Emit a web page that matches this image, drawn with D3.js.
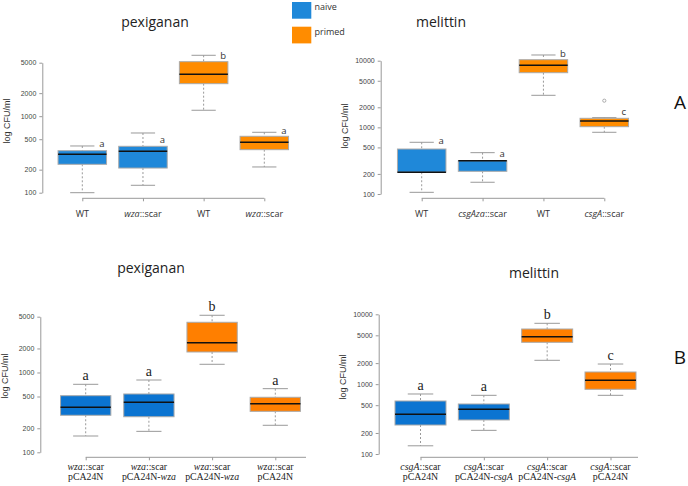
<!DOCTYPE html>
<html><head><meta charset="utf-8">
<script src="https://cdn.jsdelivr.net/npm/d3@7"></script>
<style>body{margin:0;background:#fff}svg{display:block}</style>
</head><body>
<svg id="c" width="688" height="486"></svg>
<script>
// ---------- DATA ----------
const groups = ["naive", "primed"];
const boxGroups = ["naive", "naive", "primed", "primed"];

const ticksTo5000 = [100, 200, 500, 1000, 2000, 5000];
const ticksTo10000 = [100, 200, 500, 1000, 2000, 5000, 10000];

// top-left: pexiganan  [min, q1, median, q3, max]
const pexTopLabels = ["WT", "*wza*::scar", "WT", "*wza*::scar"];
const pexTopStats = [
  [100, 235, 318, 354, 408],
  [125, 210, 348, 404, 603],
  [1195, 2660, 3530, 5155, 6250],
  [217, 365, 456, 546, 616]
];
const pexTopLetters = ["a", "a", "b", "a"];
const pexTopLetterAt = [442, 489, 6250, 646];

// top-right: melittin
const melTopLabels = ["WT", "*csgAza*::scar", "WT", "*csgA*::scar"];
const melTopStats = [
  [106, 212, 212, 473, 597],
  [150, 219, 316, 316, 417],
  [3026, 6606, 8530, 10350, 12180],
  [843, 1023, 1245, 1367, 1400]
];
const melTopOutliers = [[], [], [], [2512]];
const melTopLetters = ["a", "a", "b", "c"];
const melTopLetterAt = [631, 408, 12910, 1741];

// bottom-left: pexiganan
const pexBotLabels1 = ["*wza*::scar", "*wza*::scar", "*wza*::scar", "*wza*::scar"];
const pexBotLabels2 = ["pCA24N", "pCA24N-*wza*", "pCA24N-*wza*", "pCA24N"];
const pexBotStats = [
  [160, 291, 366, 512, 711],
  [183, 279, 423, 538, 805],
  [1267, 1806, 2362, 4256, 5210],
  [218, 326, 406, 489, 627]
];
const pexBotLetters = ["a", "a", "b", "a"];

// bottom-right: melittin
const melBotLabels1 = ["*csgA*::scar", "*csgA*::scar", "*csgA*::scar", "*csgA*::scar"];
const melBotLabels2 = ["pCA24N", "pCA24N-*csgA*", "pCA24N-*csgA*", "pCA24N"];
const melBotStats = [
  [131, 260, 370, 574, 723],
  [218, 307, 436, 520, 692],
  [2195, 3973, 4777, 6160, 7430],
  [692, 844, 1136, 1493, 1942]
];
const melBotLetters = ["a", "a", "b", "c"];

// ---------- DRAW ----------
const svg = d3.select("#c");
const sans = "'Open Sans', 'Noto Sans', sans-serif";
const arial = "'Liberation Sans', Arial, sans-serif";
const serif = "'Liberation Serif', 'Times New Roman', serif";

function addRich(textSel, str, first) {
  const parts = str.split("*");
  let started = false;
  parts.forEach((p, i) => {
    if (!p) return;
    const ts = textSel.append("tspan").text(p).attr("font-style", i % 2 ? "italic" : "normal");
    if (first && !started) { first(ts); started = true; }
  });
}

function panel(o) {
  const g = svg.append("g");
  const x = d3.scaleLinear().domain([0, 3]).range(o.xr);
  const y = d3.scaleLog().domain(o.yd).range(o.yr);
  const color = d3.scaleOrdinal().domain(groups).range(o.colors);

  // y axis
  const ya = d3.axisLeft(y).tickValues(o.ticks).tickFormat(d3.format("d")).tickSize(3).tickSizeOuter(0);
  const yg = g.append("g").attr("transform", `translate(${o.yx},0)`).call(ya);
  yg.select(".domain").attr("stroke", "#999");
  yg.selectAll(".tick line").attr("stroke", "#999");
  yg.selectAll(".tick text").attr("font-family", arial).attr("font-size", 7).attr("fill", "#444").attr("x", -6);

  // x axis
  const xa = d3.axisBottom(x).tickValues([0, 1, 2, 3]).tickFormat("").tickSize(3).tickSizeOuter(0);
  const xg = g.append("g").attr("transform", `translate(0,${o.xy})`).call(xa);
  xg.select(".domain").attr("stroke", "#999").attr("d", `M${o.xr[0]},0H${o.xend}`);
  xg.selectAll(".tick line").attr("stroke", "#999");

  // boxes
  o.stats.forEach((s, i) => {
    const cx = x(i), hw = o.bw / 2, cw = o.bw / 4;
    const [mn, q1, md, q3, mx] = s;
    g.append("line").attr("x1", cx).attr("x2", cx).attr("y1", y(mx)).attr("y2", y(q3))
      .attr("stroke", "#999").attr("stroke-dasharray", "2,2");
    g.append("line").attr("x1", cx).attr("x2", cx).attr("y1", y(q1)).attr("y2", y(mn))
      .attr("stroke", "#999").attr("stroke-dasharray", "2,2");
    [mn, mx].forEach(v => g.append("line").attr("x1", cx - cw).attr("x2", cx + cw)
      .attr("y1", y(v)).attr("y2", y(v)).attr("stroke", "#999"));
    g.append("rect").attr("x", cx - hw).attr("width", o.bw).attr("y", y(q3)).attr("height", y(q1) - y(q3))
      .attr("fill", color(boxGroups[i])).attr("stroke", "#aaa").attr("stroke-width", 1);
    g.append("line").attr("x1", cx - hw).attr("x2", cx + hw).attr("y1", y(md)).attr("y2", y(md))
      .attr("stroke", "#111").attr("stroke-width", 1.5);
    if (o.outliers) o.outliers[i].forEach(v => g.append("circle").attr("cx", cx).attr("cy", y(v)).attr("r", 1.6)
      .attr("fill", "none").attr("stroke", "#999").attr("stroke-width", 0.8));
    // letters
    if (o.letterAt) {
      g.append("text").attr("x", cx + 19.5).attr("y", y(o.letterAt[i]) + 3.3).attr("text-anchor", "middle")
        .attr("font-family", sans).attr("font-size", 9.5).attr("fill", "#333").text(o.letters[i]);
    } else {
      g.append("text").attr("x", cx).attr("y", y(mx) - 4).attr("text-anchor", "middle")
        .attr("font-family", serif).attr("font-size", 14).attr("fill", "#222").text(o.letters[i]);
    }
    // x labels
    if (o.labels) {
      const t = g.append("text").attr("x", cx).attr("y", o.xy + 18.4).attr("text-anchor", "middle")
        .attr("font-family", sans).attr("font-size", 9).attr("fill", "#333");
      addRich(t, o.labels[i]);
    } else {
      const t = g.append("text").attr("x", cx).attr("y", o.xy + 12.8).attr("text-anchor", "middle")
        .attr("font-family", serif).attr("font-size", 9.8).attr("fill", "#222");
      addRich(t, o.labels1[i]);
      addRich(t, o.labels2[i], ts => ts.attr("x", cx).attr("dy", 9.8));
    }
  });

  // y label
  g.append("text").attr("transform", `translate(${o.ylx},${o.yly}) rotate(-90)`).attr("text-anchor", "middle")
    .attr("font-family", arial).attr("font-size", 9).attr("fill", "#333").text("log  CFU/ml");
  // title
  g.append("text").attr("x", o.tx).attr("y", o.ty).attr("text-anchor", "middle")
    .attr("font-family", sans).attr("font-size", 14).attr("fill", "#222").text(o.title);
}

const topColors = ["#1f88d9", "#ff8c00"];
const botColors = ["#0b74d1", "#ff7f00"];

panel({ title: "pexiganan", tx: 155, ty: 27, xr: [82.3, 264.3], xend: 264.3, xy: 198.3, yx: 42.3,
  yd: [100, 5000], yr: [192.7, 62.7], ticks: ticksTo5000, bw: 48.5, colors: topColors,
  stats: pexTopStats, letters: pexTopLetters, letterAt: pexTopLetterAt, labels: pexTopLabels, ylx: 10, yly: 121 });
panel({ title: "melittin", tx: 441, ty: 27, xr: [421.7, 604.3], xend: 604.3, xy: 198.3, yx: 380.7,
  yd: [100, 10000], yr: [194, 60.7], ticks: ticksTo10000, bw: 48.5, colors: topColors,
  stats: melTopStats, outliers: melTopOutliers, letters: melTopLetters, letterAt: melTopLetterAt, labels: melTopLabels, ylx: 348, yly: 126 });
panel({ title: "pexiganan", tx: 151, ty: 273, xr: [85.7, 275.3], xend: 306, xy: 457.3, yx: 40.3,
  yd: [100, 5000], yr: [452.3, 316.7], ticks: ticksTo5000, bw: 50.3, colors: botColors,
  stats: pexBotStats, letters: pexBotLetters, labels1: pexBotLabels1, labels2: pexBotLabels2, ylx: 8, yly: 376 });
panel({ title: "melittin", tx: 534, ty: 278, xr: [420.5, 610.5], xend: 638, xy: 457.3, yx: 378.7,
  yd: [100, 10000], yr: [454, 314.3], ticks: ticksTo10000, bw: 51, colors: botColors,
  stats: melBotStats, letters: melBotLetters, labels1: melBotLabels1, labels2: melBotLabels2, ylx: 346, yly: 377 });

// legend
const leg = svg.append("g");
const lc = d3.scaleOrdinal().domain(groups).range(topColors);
const ly = d3.scalePoint().domain(groups).range([2, 26.7]);
groups.forEach(gname => {
  leg.append("rect").attr("x", 292).attr("y", ly(gname)).attr("width", 19.3).attr("height", 16.7).attr("fill", lc(gname));
  leg.append("text").attr("x", 314.5).attr("y", ly(gname) + 8.3).attr("font-family", sans).attr("font-size", 9)
    .attr("fill", "#333").text(gname);
});

// panel tags
svg.append("text").attr("x", 680).attr("y", 108.5).attr("text-anchor", "middle").attr("font-family", sans)
  .attr("font-size", 19).attr("fill", "#111").text("A");
svg.append("text").attr("x", 680).attr("y", 363.5).attr("text-anchor", "middle").attr("font-family", sans)
  .attr("font-size", 19).attr("fill", "#111").text("B");
</script>
</body></html>
